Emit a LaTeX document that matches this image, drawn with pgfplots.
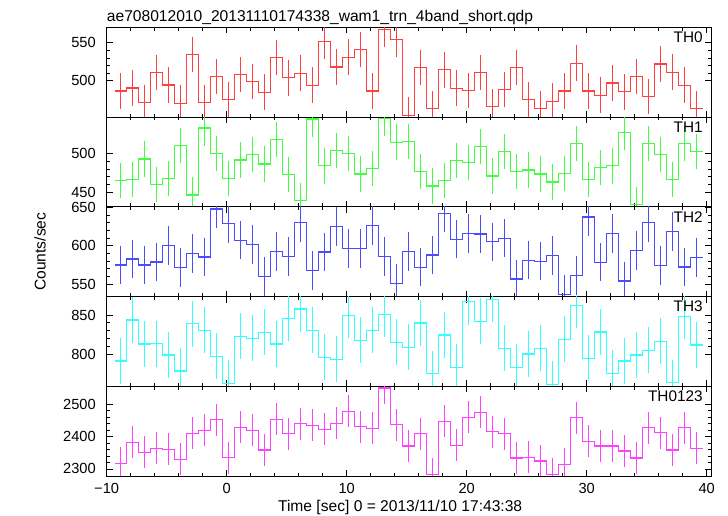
\documentclass[border=0pt]{standalone}
\usepackage{fontspec}
\setmainfont{Liberation Sans}
\usepackage{pgfplots}
\pgfplotsset{compat=1.18}
\usepackage{pgfplotstable}

\pgfplotstableread{
x a b c d e
-9.32 486.4 465.2 574.8 791.0 2317.0
-8.32 490.4 466.5 582.6 843.6 2382.4
-7.32 471.0 493.0 574.8 812.8 2351.3
-6.32 511.0 460.0 578.7 813.2 2363.7
-5.32 494.3 467.8 600.0 798.7 2360.6
-4.32 470.6 510.9 571.7 778.2 2329.5
-3.32 534.6 446.0 589.6 838.9 2410.4
-2.32 471.0 533.5 585.2 830.3 2419.7
-1.32 505.7 500.0 647.8 797.0 2451.8
-0.32 475.4 467.8 629.0 762.4 2334.7
0.68 508.3 491.7 607.0 822.6 2429.0
1.68 499.0 499.0 601.3 820.0 2419.7
2.68 485.0 486.5 560.0 827.8 2358.5
3.68 530.7 518.3 592.6 812.8 2453.9
4.68 504.0 472.6 585.7 845.7 2408.3
5.68 510.0 439.0 630.0 857.7 2439.4
6.68 494.0 545.2 567.8 830.3 2435.2
7.68 551.8 484.0 591.7 795.7 2422.8
8.68 518.0 504.3 624.8 793.2 2441.5
9.68 531.0 500.0 596.5 849.6 2478.8
10.68 541.0 473.5 596.5 817.5 2431.1
11.68 486.4 480.9 626.5 830.3 2425.9
12.68 567.5 545.7 586.0 850.9 2550.3
13.68 554.4 515.0 551.0 815.0 2436.3
14.68 454.8 516.0 592.2 808.5 2371.0
15.68 517.5 477.0 572.0 839.7 2408.3
16.68 463.0 457.8 587.8 774.8 2283.0
17.68 514.5 465.2 642.2 824.4 2447.7
18.68 490.0 490.9 608.3 782.9 2373.0
19.68 487.3 488.3 616.0 867.0 2460.0
20.68 511.0 509.0 615.2 841.9 2475.6
21.68 466.0 470.9 605.2 870.0 2414.5
22.68 488.6 503.0 609.6 807.3 2408.3
23.68 517.5 477.0 556.5 782.9 2333.7
24.68 475.4 478.7 580.9 800.0 2335.8
25.68 463.6 473.5 579.6 807.3 2324.4
26.68 473.2 463.0 587.4 761.1 2283.0
27.68 486.4 473.9 536.5 818.8 2314.0
28.68 523.2 513.5 561.3 862.4 2458.0
29.68 486.4 466.5 637.4 794.4 2385.5
30.68 481.0 482.2 578.3 828.2 2371.0
31.68 497.0 484.0 616.0 775.2 2371.0
32.68 485.5 527.4 553.9 791.0 2355.4
33.68 505.7 434.0 593.9 798.7 2333.7
34.68 479.4 513.5 630.4 804.7 2428.0
35.68 522.0 499.0 574.3 816.2 2412.4
36.68 511.4 466.5 618.7 763.2 2358.5
37.68 494.0 513.5 572.2 848.3 2427.0
38.68 463.6 503.0 584.8 811.5 2363.7
39.68 463.6 503.0 584.8 811.5 2363.7
}\data

\definecolor{cred}{rgb}{1,0.25,0.25}
\definecolor{cgreen}{rgb}{0.25,1,0.25}
\definecolor{cblue}{rgb}{0.3,0.3,1}
\definecolor{ccyan}{rgb}{0.2,1,1}
\definecolor{cmag}{rgb}{1,0.25,1}
\pgfplotsset{
  panel/.style={
    scale only axis, width=453.6pt, height=67.31pt, anchor=south west,
    clip mode=individual,
    xmin=-10, xmax=40.4,
    xtick={-10,0,10,20,30,40}, xticklabels={}, minor x tick num=4,
    minor y tick num=4,
    tick align=inside,
    axis line style={black, line width=0.6pt},
    every tick/.style={black, line width=0.5pt},
    major tick length=4.5pt, minor tick length=2.5pt,
    yticklabel style={font=\fontsize{11}{13}\selectfont, anchor=east, inner sep=0pt, xshift=-8pt},
    xticklabel style={font=\fontsize{11}{13}\selectfont, anchor=base, inner sep=0pt, yshift=-12.8pt},
  },
  stepline/.style={const plot mark left, mark=none, line width=0.85pt},
  ebars/.style 2 args={draw=none, mark=none, skip coords between index={49}{50},
    error bars/.cd, y dir=both, y fixed=#2, error mark=none,
    error bar style={draw=#1, line width=0.85pt}},
}
\tikzset{plab/.style={anchor=north east, inner sep=0pt, xshift=-6.4pt, yshift=-3.3pt, font=\fontsize{11.5}{13}\selectfont}}

\begin{document}
\begin{tikzpicture}
\useasboundingbox (0,0) rectangle (546pt,387pt);
% TH0
\begin{axis}[panel, at={(80pt,299.2pt)}, ymin=452.2, ymax=570.3, ytick={500,550}, yticklabels={500,550}]
\addplot[stepline, cred] table[x=x,y=a]{\data};
\addplot[ebars={cred}{23.5}] table[x expr=\thisrow{x}+0.5, y=a]{\data};
\node[plab] at (rel axis cs:1,1) {TH0};
\node[anchor=base west, inner sep=0pt, font=\fontsize{11.7}{14}\selectfont, yshift=4.7pt] at (rel axis cs:0,1) {ae708012010\_20131110174338\_wam1\_trn\_4band\_short.qdp};
\end{axis}
% TH1
\begin{axis}[panel, at={(80pt,231.9pt)}, ymin=430.7, ymax=547.7, ytick={450,500}, yticklabels={450,500}]
\addplot[stepline, cgreen] table[x=x,y=b]{\data};
\addplot[ebars={cgreen}{23}] table[x expr=\thisrow{x}+0.5, y=b]{\data};
\node[plab] at (rel axis cs:1,1) {TH1};
\end{axis}
% TH2
\begin{axis}[panel, at={(80pt,164.6pt)}, ymin=533.7, ymax=650.7, ytick={550,600,650}, yticklabels={550,600,650}]
\addplot[stepline, cblue] table[x=x,y=c]{\data};
\addplot[ebars={cblue}{25}] table[x expr=\thisrow{x}+0.5, y=c]{\data};
\node[plab] at (rel axis cs:1,1) {TH2};
\node[rotate=90, anchor=center, font=\fontsize{11.7}{14}\selectfont] at (rel axis cs:0,0.5) [shift={(0pt,50pt)}] {Counts/sec};
\end{axis}
% TH3
\begin{axis}[panel, at={(80pt,97.3pt)}, ymin=758.6, ymax=873.7, ytick={800,850}, yticklabels={800,850}]
\addplot[stepline, ccyan] table[x=x,y=d]{\data};
\addplot[ebars={ccyan}{29.5}] table[x expr=\thisrow{x}+0.5, y=d]{\data};
\node[plab] at (rel axis cs:1,1) {TH3};
\end{axis}
% TH0123
\begin{axis}[panel, at={(80pt,30pt)}, ymin=2278.2, ymax=2555.8, ytick={2300,2400,2500}, yticklabels={2300,2400,2500},
  xticklabels={−10,0,10,20,30,40}]
\addplot[stepline, cmag] table[x=x,y=e]{\data};
\addplot[ebars={cmag}{49.5}] table[x expr=\thisrow{x}+0.5, y=e]{\data};
\node[plab] at (rel axis cs:1,1) {TH0123};
\node[anchor=base, inner sep=0pt, font=\fontsize{11.7}{14}\selectfont] at (rel axis cs:0.5,0) [shift={(-6.7pt,-27pt)}] {Time [sec] 0 = 2013/11/10 17:43:38};
\end{axis}
\end{tikzpicture}
\end{document}
